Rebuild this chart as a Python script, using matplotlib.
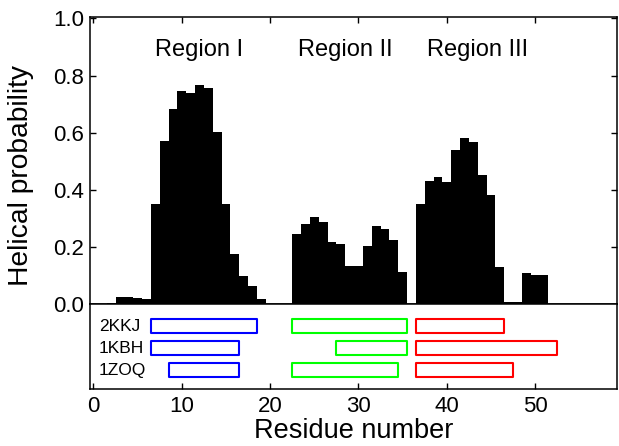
import matplotlib
matplotlib.use("Agg")
import matplotlib.pyplot as plt
import numpy as np

plt.rcParams['font.family'] = ['Liberation Sans', 'DejaVu Sans']

# ---- data ----
residues = list(range(1, 52))
helical_prob = [0.0, 0.005, 0.025, 0.025, 0.021, 0.017, 0.351, 0.571, 0.683, 0.747,
                0.740, 0.766, 0.756, 0.602, 0.350, 0.176, 0.100, 0.064, 0.017, 0.0,
                0.0, 0.0, 0.247, 0.280, 0.306, 0.287, 0.219, 0.210, 0.134, 0.134,
                0.203, 0.274, 0.262, 0.225, 0.112, 0.0, 0.352, 0.431, 0.445, 0.429,
                0.540, 0.581, 0.566, 0.451, 0.382, 0.131, 0.007, 0.007, 0.109, 0.101,
                0.101]

region_labels = ["Region I", "Region II", "Region III"]
region_centers = [12.0, 28.5, 43.5]

structures = ["2KKJ", "1KBH", "1ZOQ"]
# helix ranges (first residue, last residue) for regions I, II, III
helices_I = [(7, 18), (7, 16), (9, 16)]
helices_II = [(23, 35), (28, 35), (23, 34)]
helices_III = [(37, 46), (37, 52), (37, 47)]
region_colors = ["#0000ff", "#00ff00", "#ff0000"]

xticks = [0, 10, 20, 30, 40, 50]
yticks = [0.0, 0.2, 0.4, 0.6, 0.8, 1.0]

# ---- figure ----
fig = plt.figure(figsize=(6.19, 4.46), dpi=100)
W, H = 619, 446
left, right = 89.5, 617.3
top, mid, bottom = 17.0, 304.3, 389.0
ax = fig.add_axes([left / W, 1 - mid / H, (right - left) / W, (mid - top) / H])
ax2 = fig.add_axes([left / W, 1 - bottom / H, (right - left) / W, (bottom - mid) / H])

xlim = (-0.45, 59.3)

ax.bar(residues, helical_prob, width=1.0, color="black", edgecolor="none")
ax.set_xlim(*xlim)
ax.set_ylim(0, 1.005)
ax.set_yticks(yticks)
ax.set_yticklabels([f"{v:.1f}" for v in yticks], fontsize=16)
ax.set_xticks(xticks)
ax.tick_params(axis='x', which='both', bottom=False, top=True, labelbottom=False,
               direction='in', length=4, width=1)
ax.tick_params(axis='y', which='both', left=True, right=True, direction='in',
               length=4, width=1, pad=4)
ax.set_ylabel("Helical probability", fontsize=20.3)
ax.yaxis.set_label_coords(-0.106, 0.447)
for lab, cx in zip(region_labels, region_centers):
    ax.text(cx, 0.889, lab, ha='center', va='center', fontsize=17)
for s in ax.spines.values():
    s.set_linewidth(1.1)

# lower panel with helix boxes
ax2.set_xlim(*xlim)
ax2.set_ylim(3.86, 0.0)
box_h = 0.64
for row, name in enumerate(structures):
    yc = row + 1
    ax2.text(0.6, yc, name, ha='left', va='center', fontsize=12.5)
    for helices, col in zip([helices_I, helices_II, helices_III], region_colors):
        s, e = helices[row]
        ax2.broken_barh([(s - 0.5, e - s + 1)], (yc - box_h / 2, box_h),
                        facecolors='none', edgecolors=col, linewidth=1.5)
ax2.set_yticks([])
ax2.set_xticks(xticks)
ax2.set_xticklabels([str(v) for v in xticks], fontsize=16)
ax2.tick_params(axis='x', direction='in', length=4, width=1, pad=5)
ax2.set_xlabel("Residue number", fontsize=19.5, labelpad=1)
for s in ax2.spines.values():
    s.set_linewidth(1.1)

fig.savefig("out.png", dpi=100)
